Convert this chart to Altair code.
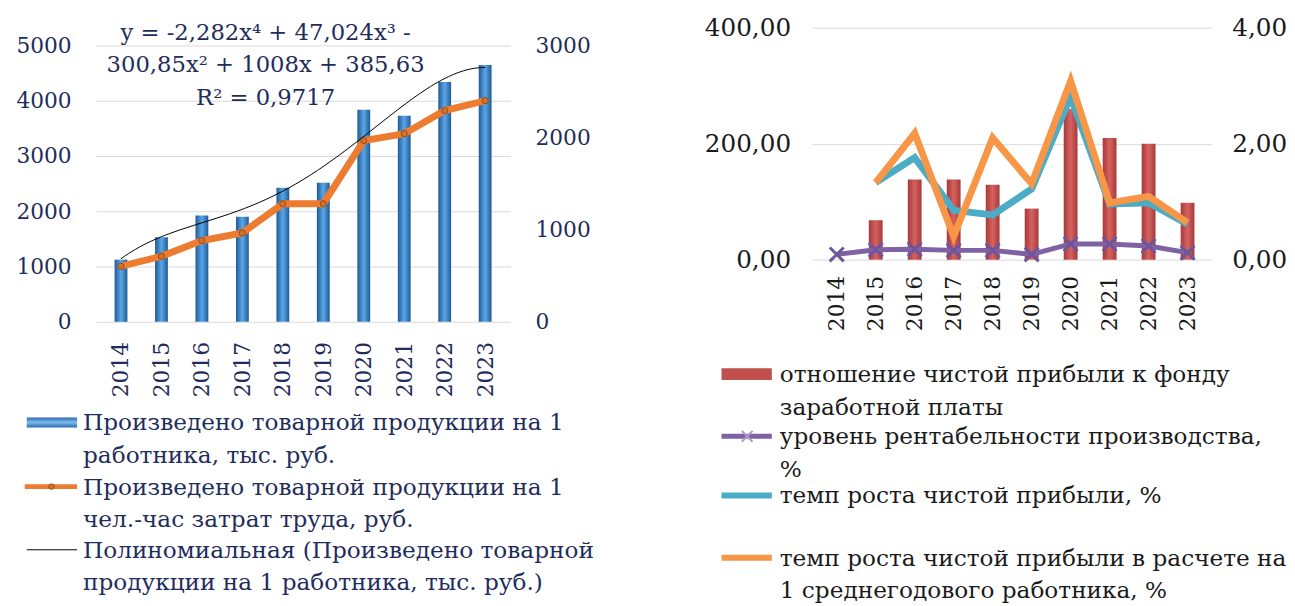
import altair as alt
import pandas as pd

# ---------------- data ----------------
years = ["2014", "2015", "2016", "2017", "2018", "2019", "2020", "2021", "2022", "2023"]
output_per_worker = [1125, 1530, 1925, 1900, 2425, 2515, 3835, 3730, 4340, 4645]
output_per_hour = [603, 711, 882, 965, 1282, 1282, 1968, 2043, 2293, 2400]

profit_to_wage = [None, 68, 138, 138, 129, 88, 260, 210, 200, 98]
profitability = [0.09, 0.17, 0.18, 0.16, 0.16, 0.09, 0.27, 0.27, 0.235, 0.12]
profit_growth = [None, 1.33, 1.76, 0.85, 0.77, 1.22, 2.81, 0.96, 0.98, 0.61]
profit_growth_per_worker = [None, 1.33, 2.18, 0.40, 2.10, 1.31, 3.08, 0.98, 1.09, 0.64]

left_ticks = [0, 1000, 2000, 3000, 4000, 5000]
left_right_ticks = [0, 1000, 2000, 3000]
right_ticks = [0, 200, 400]
right_right_ticks = [0, 2, 4]

equation_lines = ["y = -2,282x⁴ + 47,024x³ -", "300,85x² + 1008x + 385,63", "R² = 0,9717"]
left_legend = [
    "Произведено товарной продукции на 1\nработника, тыс. руб.",
    "Произведено товарной продукции на 1\nчел.-час затрат труда, руб.",
    "Полиномиальная (Произведено товарной\nпродукции на 1 работника, тыс. руб.)",
]
right_legend = [
    "отношение чистой прибыли к фонду\nзаработной платы",
    "уровень рентабельности производства,\n%",
    "темп роста чистой прибыли, %",
    "темп роста чистой прибыли в расчете на\n1 среднегодового работника, %",
]

idx = list(range(1, len(years) + 1))
df_left = pd.DataFrame({"idx": idx, "year": years,
                        "per_worker": output_per_worker, "per_hour": output_per_hour})
df_right = pd.DataFrame({"idx": idx, "year": years, "ratio": profit_to_wage,
                         "prof": profitability, "growth": profit_growth,
                         "growth_pw": profit_growth_per_worker})
one = pd.DataFrame({"k": [0]})

# ---------------- style / layout ----------------
FONT = "DejaVu Serif"
NAVY = "#1F2D5C"
BLACK = "#1a1a1a"
FS = 22
RFS = 25
LFS = 23.5

WL, HL = 420, 298          # left plot
WR, HR = 405, 235          # right plot
left_top = 5000 * HL / 280
left_rtop = 3000 * HL / 280

year_expr = "[" + ",".join("'%s'" % y for y in years) + "][datum.value - 1]"
comma_expr = "replace(format(datum.value, '.2f'), '.', ',')"

blue_grad = alt.LinearGradient(gradient="linear", x1=0, x2=1, y1=0, y2=0, stops=[
    alt.GradientStop(color="#1E5B98", offset=0),
    alt.GradientStop(color="#5CA6E6", offset=0.5),
    alt.GradientStop(color="#1E5B98", offset=1)])
blue_grad_v = alt.LinearGradient(gradient="linear", x1=0, x2=0, y1=0, y2=1, stops=[
    alt.GradientStop(color="#2A6BB0", offset=0),
    alt.GradientStop(color="#7DBBEE", offset=0.5),
    alt.GradientStop(color="#2A6BB0", offset=1)])
red_grad = alt.LinearGradient(gradient="linear", x1=0, x2=1, y1=0, y2=0, stops=[
    alt.GradientStop(color="#A8393A", offset=0),
    alt.GradientStop(color="#D4625F", offset=0.5),
    alt.GradientStop(color="#A8393A", offset=1)])


def xaxis(color, pad):
    return alt.Axis(values=idx, labelExpr=year_expr, labelAngle=270, labelAlign="right",
                    labelBaseline="middle", grid=False, ticks=False, domain=False,
                    labelPadding=pad, labelColor=color, title=None,
                    labelFont=FONT, labelFontSize=FS)


def yaxis(orient, values, color, pad, ext, grid, size, expr=None, fmt=None):
    kw = dict(orient=orient, values=values, grid=grid, ticks=False, domain=False,
              labelPadding=pad, labelColor=color, title=None, minExtent=ext, maxExtent=ext,
              labelFont=FONT, labelFontSize=size, gridColor="#D9D9D9", gridWidth=1)
    if expr:
        kw["labelExpr"] = expr
    if fmt:
        kw["format"] = fmt
    return alt.Axis(**kw)


# ---------------- left chart ----------------
xl = alt.X("idx:Q", scale=alt.Scale(domain=[0.5, 10.5], nice=False, zero=False),
           axis=xaxis(NAVY, 20))
yl_scale = alt.Scale(domain=[0, left_top], nice=False)
yr_scale = alt.Scale(domain=[0, left_rtop], nice=False)

bars_l = alt.Chart(df_left).mark_bar(size=13, color=blue_grad).encode(
    x=xl,
    y=alt.Y("per_worker:Q", scale=yl_scale,
            axis=yaxis("left", left_ticks, NAVY, 25, 89, True, FS, fmt="d")))
line_l = alt.Chart(df_left).mark_line(color="#EE7C30", strokeWidth=7).encode(
    x=xl,
    y=alt.Y("per_hour:Q", scale=yr_scale,
            axis=yaxis("right", left_right_ticks, NAVY, 25, 100, False, FS, fmt="d")))
pts_l = alt.Chart(df_left).mark_point(filled=True, size=40, fill="#D2712C", stroke="#9A4A14",
                                      strokeWidth=1, opacity=1).encode(
    x=xl, y=alt.Y("per_hour:Q", scale=yr_scale, axis=None))
trend = alt.Chart(df_left).transform_regression(
    "idx", "per_worker", method="poly", order=4, extent=[1, 10]
).mark_line(color="black", strokeWidth=1).encode(
    x=alt.X("idx:Q"), y=alt.Y("per_worker:Q", scale=yl_scale, axis=None))

eq = alt.Chart(one).mark_text(font=FONT, fontSize=23, color=NAVY, align="center",
                              baseline="alphabetic", lineBreak="\n", lineHeight=33).encode(
    x=alt.value(172), y=alt.value(12), text=alt.value("\n".join(equation_lines)))

leg_l_y = [400, 465, 529]
leg_l = [
    alt.Chart(one).mark_rect(fill=blue_grad_v).encode(
        x=alt.value(-70), x2=alt.value(-19), y=alt.value(leg_l_y[0] - 5), y2=alt.value(leg_l_y[0] + 5)),
    alt.Chart(one).mark_rule(color="#EE7C30", strokeWidth=5).encode(
        x=alt.value(-72), x2=alt.value(-19), y=alt.value(leg_l_y[1])),
    alt.Chart(one).mark_point(filled=True, size=30, fill="#D2712C", stroke="#9A4A14",
                              strokeWidth=1, opacity=1).encode(
        x=alt.value(-45), y=alt.value(leg_l_y[1])),
    alt.Chart(one).mark_rule(color="black", strokeWidth=1).encode(
        x=alt.value(-70), x2=alt.value(-19), y=alt.value(leg_l_y[2])),
]
for yy, lbl in zip(leg_l_y, left_legend):
    leg_l.append(alt.Chart(one).mark_text(font=FONT, fontSize=LFS, color=NAVY, align="left",
                                          baseline="alphabetic", lineBreak="\n", lineHeight=33).encode(
        x=alt.value(-13), y=alt.value(yy + 8), text=alt.value(lbl)))

left = alt.layer(bars_l, line_l, pts_l, trend, eq, *leg_l).resolve_scale(
    y="independent").properties(width=WL, height=HL)

# ---------------- right chart ----------------
xr = alt.X("idx:Q", scale=alt.Scale(domain=[0.5, 10.5], nice=False, zero=False),
           axis=xaxis(BLACK, 16))
ylr = alt.Scale(domain=[0, 400], nice=False)
yrr = alt.Scale(domain=[0, 4], nice=False)

bars_r = alt.Chart(df_right).mark_bar(size=14, color=red_grad).encode(
    x=xr,
    y=alt.Y("ratio:Q", scale=ylr,
            axis=yaxis("left", right_ticks, BLACK, 22, 110, True, RFS, expr=comma_expr)))
cyan = alt.Chart(df_right).mark_line(color="#4BACC6", strokeWidth=7).encode(
    x=xr, y=alt.Y("growth:Q", scale=yrr,
                  axis=yaxis("right", right_right_ticks, BLACK, 20, 60, False, RFS, expr=comma_expr)))
orange = alt.Chart(df_right).mark_line(color="#F79646", strokeWidth=7).encode(
    x=xr, y=alt.Y("growth_pw:Q", scale=yrr, axis=None))
purple = alt.Chart(df_right).mark_line(color="#7F62A6", strokeWidth=5).encode(
    x=xr, y=alt.Y("prof:Q", scale=yrr, axis=None))
xmark = "M-1,-1L1,1M1,-1L-1,1"
purple_pts = alt.Chart(df_right).mark_point(shape=xmark, size=200, stroke="#6E569C",
                                            strokeWidth=3, filled=False, opacity=1).encode(
    x=xr, y=alt.Y("prof:Q", scale=yrr, axis=None))

leg_r_y = [351, 414, 474, 537]
leg_r = [
    alt.Chart(one).mark_rect(fill="#C0504D").encode(
        x=alt.value(-92), x2=alt.value(-41), y=alt.value(leg_r_y[0] - 6), y2=alt.value(leg_r_y[0] + 6)),
    alt.Chart(one).mark_rule(color="#7F62A6", strokeWidth=5).encode(
        x=alt.value(-92), x2=alt.value(-41), y=alt.value(leg_r_y[1])),
    alt.Chart(one).mark_point(shape=xmark, size=120, stroke="#A99BC4", strokeWidth=2,
                              filled=False, opacity=1).encode(
        x=alt.value(-66), y=alt.value(leg_r_y[1])),
    alt.Chart(one).mark_rule(color="#4BACC6", strokeWidth=6).encode(
        x=alt.value(-92), x2=alt.value(-41), y=alt.value(leg_r_y[2])),
    alt.Chart(one).mark_rule(color="#F79646", strokeWidth=6).encode(
        x=alt.value(-92), x2=alt.value(-41), y=alt.value(leg_r_y[3])),
]
for yy, lbl in zip(leg_r_y, right_legend):
    leg_r.append(alt.Chart(one).mark_text(font=FONT, fontSize=LFS, color=BLACK, align="left",
                                          baseline="alphabetic", lineBreak="\n", lineHeight=33).encode(
        x=alt.value(-33), y=alt.value(yy + 8), text=alt.value(lbl)))

right = alt.layer(bars_r, cyan, orange, purple, purple_pts, *leg_r).resolve_scale(
    y="independent").properties(width=WR, height=HR)

chart = alt.hconcat(left, right, spacing=96).properties(
    padding={"left": 0, "top": 4, "right": 0, "bottom": 0},
    background="white"
).configure_view(stroke=None)

chart.save("out.html", embed_options={"renderer": "svg", "actions": False})
